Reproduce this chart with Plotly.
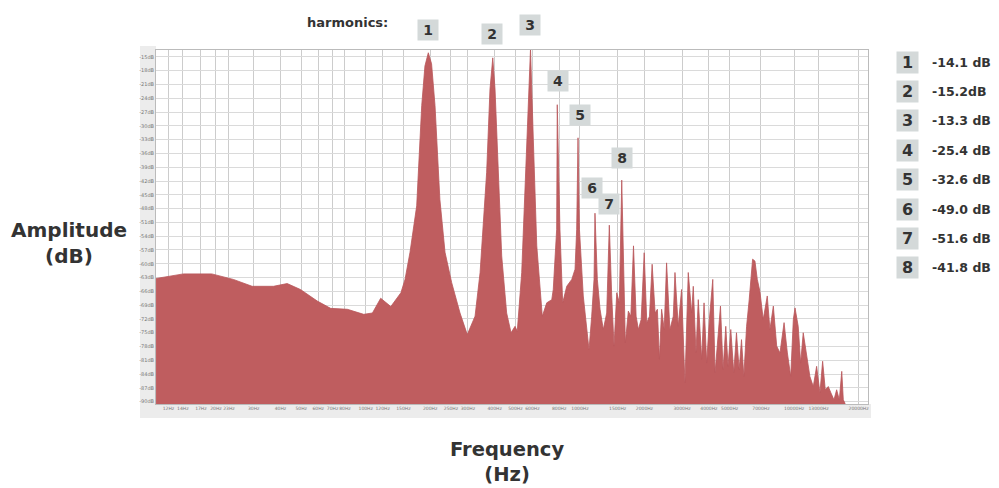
import plotly.graph_objects as go

# ---------------- data ----------------
# background spectrum (Hz, dB) (harmonic peaks merged below)
spec_freq = [10.5, 14.1, 19.1, 24.1, 29.5, 37.1, 43.0, 49.6, 59.4, 68.6, 82.1, 97.9, 107.5, 117.5,
             131, 146, 152.6, 161, 173, 182.6, 189, 203, 210.7, 222, 234.6, 252, 275.6, 298, 324,
             342, 367, 380.4, 401.6, 416, 431.5, 455, 477, 498, 510, 535, 564.6, 606, 629, 667.5,
             700, 739, 751, 779, 807, 831, 868, 916, 949, 966, 995, 1037, 1076, 1103, 1135, 1164,
             1206, 1242, 1286, 1334, 1408, 1443, 1486, 1528, 1595, 1630, 1683, 1729, 1779, 1830,
             1875, 1932, 1996, 2053, 2113, 2174, 2245, 2300, 2351, 2407, 2475, 2539, 2631, 2729,
             2779, 2878, 2983, 3093, 3205, 3324, 3383, 3483, 3570, 3703, 3798, 3908, 4022, 4172,
             4277, 4431, 4532, 4661, 4798, 4917, 5062, 5229, 5382, 5538, 5681, 5825, 6000, 6171,
             6401, 6565, 6733, 6923, 7175, 7493, 7712, 8000, 8293, 8590, 8978, 9301, 9643, 9917,
             10100, 10450, 10730, 11030, 11440, 11850, 12290, 12740, 13200, 13590, 13980, 14440,
             14860, 15350, 15800, 16260, 16690, 16970, 17270, 17600, 22100]
spec_db = [-63.2, -62.2, -62.2, -63.4, -64.9, -64.9, -64.3, -65.6, -68.1, -69.7, -69.9, -71.0, -70.7, -67.5,
           -69.3, -66.3, -63.4, -57.5, -47.4, -25.6, -17.0, -16.5, -25.6, -46.0, -57.5, -64.1, -70.7, -75.4, -71.4,
           -61.9, -40.1, -22.0, -22.0, -40.1, -58.3, -70.7, -75.0, -73.6, -74.7, -61.9, -32.9, -32.9, -56.1, -71.4,
           -68.5, -67.8, -65.6, -52.5, -52.5, -68.5, -64.9, -63.4, -61.2, -52.5, -52.5, -67.0, -74.3, -78.7, -71.4, -63.4,
           -63.4, -69.9, -74.3, -70.7, -67.0, -77.9, -66.3, -68.5, -59.8, -77.2, -70.3, -71.4, -56.1, -71.4,
           -74.3, -72.1, -57.6, -72.8, -71.4, -60.1, -70.7, -69.9, -80.8, -69.9, -74.3, -59.8, -74.3, -71.4,
           -61.9, -73.6, -65.6, -85.9, -61.9, -70.7, -64.9, -79.3, -67.8, -80.8, -68.5, -81.6, -72.1, -63.4,
           -83.7, -74.3, -69.2, -83.0, -73.6, -82.3, -74.3, -83.7, -75.0, -83.0, -76.5, -84.5, -73.6, -67.8,
           -59.0, -59.4, -63.4, -66.0, -72.1, -67.0, -74.3, -69.2, -77.9, -79.4, -72.8, -79.4, -84.5, -72.1,
           -69.6, -73.6, -81.6, -75.0, -79.4, -84.5, -86.7, -82.3, -88.1, -81.2, -87.4, -86.7,
           -88.1, -89.6, -87.4, -89.6, -83.4, -89.6, -90.3, -93.0, -93.0]

harm_num = ["1", "2", "3", "4", "5", "6", "7", "8"]
harm_freq = [196, 392, 588, 784, 980, 1176, 1372, 1568]
harm_db = [-14.1, -15.2, -13.3, -25.4, -32.6, -49.0, -51.6, -41.8]
harm_text = ["-14.1 dB", "-15.2dB", "-13.3 dB", "-25.4 dB", "-32.6 dB", "-49.0 dB", "-51.6 dB", "-41.8 dB"]

y_ticks = [-15, -18, -21, -24, -27, -30, -33, -36, -39, -42, -45, -48, -51, -54, -57, -60,
           -63, -66, -69, -72, -75, -78, -81, -84, -87, -90]
x_ticks = [12, 14, 17, 20, 23, 30, 40, 50, 60, 70, 80, 100, 120, 150, 200, 250, 300, 400,
           500, 600, 800, 1000, 1500, 2000, 3000, 4000, 5000, 7000, 10000, 13000, 20000]

# merge harmonic peaks into the spectrum
pts = sorted(zip(spec_freq + harm_freq, spec_db + harm_db))
freq = [p[0] for p in pts]
db = [p[1] for p in pts]

# ---------------- layout helpers (pixel -> paper) ----------------
W, H = 999, 488
L, R, T, B = 156, 868, 50, 404


def px(x):
    return (x - L) / (R - L)


def py(y):
    return (B - y) / (B - T)


FILL = "#bf5d5f"
DARK = "#333333"
BOXC = "#d4d9d9"

fig = go.Figure()
# baseline for the filled area
fig.add_trace(go.Scatter(x=[freq[0], freq[-1]], y=[-100, -100], mode="lines",
                         line=dict(width=0, color=FILL), hoverinfo="skip", showlegend=False))
fig.add_trace(go.Scatter(x=freq, y=db, mode="lines", fill="tonexty", fillcolor=FILL,
                         line=dict(color="#b9575a", width=0.8), showlegend=False))

annotations = []
# axis titles
annotations.append(dict(text="<b>Amplitude</b><br><b>(dB)</b>", x=px(69), y=py(243), xref="paper", yref="paper",
                        showarrow=False, font=dict(family="DejaVu Sans", size=20, color=DARK),
                        xanchor="center", yanchor="middle", align="center"))
annotations.append(dict(text="<b>Frequency</b><br><b>(Hz)</b>", x=px(507), y=py(462), xref="paper", yref="paper",
                        showarrow=False, font=dict(family="DejaVu Sans", size=19.5, color=DARK),
                        xanchor="center", yanchor="middle", align="center"))
annotations.append(dict(text="<b>harmonics:</b>", x=px(347), y=py(23), xref="paper", yref="paper",
                        showarrow=False, font=dict(family="DejaVu Sans", size=13, color=DARK),
                        xanchor="center", yanchor="middle"))

# numbered boxes over the peaks
box_pos = [(428, 30), (492, 34), (530, 25), (558, 81), (580, 115), (592, 188), (609, 204), (622, 158)]
for n, (bx, by) in zip(harm_num, box_pos):
    annotations.append(dict(text=f"<b>{n}</b>", x=px(bx), y=py(by), xref="paper", yref="paper",
                            showarrow=False, bgcolor=BOXC, width=18, height=18,
                            font=dict(family="DejaVu Sans", size=14, color=DARK),
                            xanchor="center", yanchor="middle"))

# legend on the right
for i, (n, t) in enumerate(zip(harm_num, harm_text)):
    yy = 62 + 29.4 * i
    annotations.append(dict(text=f"<b>{n}</b>", x=px(908), y=py(yy), xref="paper", yref="paper",
                            showarrow=False, bgcolor=BOXC, width=19, height=19,
                            font=dict(family="DejaVu Sans", size=16, color=DARK),
                            xanchor="center", yanchor="middle"))
    annotations.append(dict(text=f"<b>{t}</b>", x=px(930), y=py(yy), xref="paper", yref="paper",
                            showarrow=False, font=dict(family="DejaVu Sans", size=12.5, color=DARK),
                            xanchor="left", yanchor="middle"))

shapes = [
    dict(type="rect", xref="paper", yref="paper", x0=px(140), x1=px(L), y0=py(418), y1=py(46),
         fillcolor="#ececec", line=dict(width=0), layer="below"),
    dict(type="rect", xref="paper", yref="paper", x0=px(140), x1=px(871), y0=py(418), y1=py(B),
         fillcolor="#ececec", line=dict(width=0), layer="below"),
]

fig.update_layout(
    width=W, height=H,
    margin=dict(l=L, r=W - R, t=T, b=H - B),
    paper_bgcolor="white", plot_bgcolor="white",
    annotations=annotations, shapes=shapes,
    showlegend=False,
    xaxis=dict(type="log", range=[1.021, 4.345], tickvals=x_ticks,
               ticktext=[f"{v}Hz" for v in x_ticks], tickangle=0,
               tickfont=dict(family="DejaVu Sans", size=4.5, color="#777777"),
               showgrid=True, gridcolor="#cccccc", gridwidth=1, ticks="", ticklen=0,
               showline=True, linecolor="#bbbbbb", mirror=True, zeroline=False),
    yaxis=dict(range=[-90.5, -13.5], tickvals=y_ticks, ticktext=[f"{v}dB" for v in y_ticks],
               tickfont=dict(family="DejaVu Sans", size=5, color="#777777"),
               showgrid=True, gridcolor="#dadada", gridwidth=1, ticks="",
               showline=True, linecolor="#bbbbbb", mirror=True, zeroline=False),
)

fig.write_html("out.html")
